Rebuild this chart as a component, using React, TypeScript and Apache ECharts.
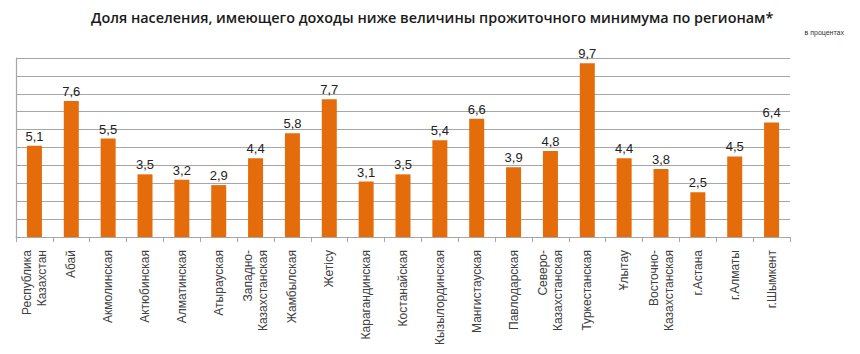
import React, { useEffect, useRef } from "react";
import * as echarts from "echarts";

const categories = [
  "Республика\nКазахстан",
  "Абай",
  "Акмолинская",
  "Актюбинская",
  "Алматинская",
  "Атырауская",
  "Западно-\nКазахстанская",
  "Жамбылская",
  "Жетісу",
  "Карагандинская",
  "Костанайская",
  "Кызылординская",
  "Мангистауская",
  "Павлодарская",
  "Северо-\nКазахстанская",
  "Туркестанская",
  "Ұлытау",
  "Восточно-\nКазахстанская",
  "г.Астана",
  "г.Алматы",
  "г.Шымкент",
];

const values = [5.1, 7.6, 5.5, 3.5, 3.2, 2.9, 4.4, 5.8, 7.7, 3.1, 3.5, 5.4, 6.6, 3.9, 4.8, 9.7, 4.4, 3.8, 2.5, 4.5, 6.4];

const titleText = "Доля населения, имеющего доходы ниже величины прожиточного минимума по регионам*";
const unitText = "в процентах";

export default function App() {
  const ref = useRef<HTMLDivElement>(null);
  useEffect(() => {
    document.body.style.margin = "0";
    const chart = echarts.init(ref.current!, null, { renderer: "svg" });
    chart.setOption({
      animation: false,
      backgroundColor: "#ffffff",
      title: {
        text: titleText,
        left: 86,
        top: 5,
        textStyle: {
          fontFamily: "Open Sans",
          fontSize: 14.4,
          fontWeight: 600,
          color: "#1a1a1a",
        },
      },
      graphic: [
        {
          type: "text",
          right: 16,
          top: 29,
          style: {
            text: unitText,
            fontSize: 7,
            fontFamily: "Liberation Sans",
            fill: "#333",
          },
        },
      ],
      grid: { left: 16, right: 70, top: 58, bottom: 117 },
      xAxis: {
        type: "category",
        data: categories,
        axisLine: { lineStyle: { color: "#a6a6a6", width: 1.2 } },
        axisTick: { show: true, length: 5, lineStyle: { color: "#a6a6a6" } },
        axisLabel: {
          rotate: 90,
          interval: 0,
          margin: 13,
          fontSize: 12,
          lineHeight: 15,
          fontFamily: "Liberation Sans",
          color: "#404040",
        },
      },
      yAxis: {
        type: "value",
        min: 0,
        max: 10,
        interval: 1,
        axisLabel: { show: false },
        axisTick: { show: false },
        axisLine: { show: true, lineStyle: { color: "#a6a6a6", width: 1.2 } },
        splitLine: { lineStyle: { color: "#a6a6a6", width: 1.2 } },
      },
      series: [
        {
          type: "bar",
          data: values,
          barWidth: 15,
          itemStyle: { color: "#e46c0a" },
          label: {
            show: true,
            position: "top",
            distance: 3,
            fontSize: 13,
            fontFamily: "Liberation Sans",
            color: "#222",
            formatter: (p: any) => String(p.value).replace(".", ","),
          },
        },
      ],
    });
    return () => chart.dispose();
  }, []);
  return <div ref={ref} style={{ width: 860, height: 354 }} />;
}
